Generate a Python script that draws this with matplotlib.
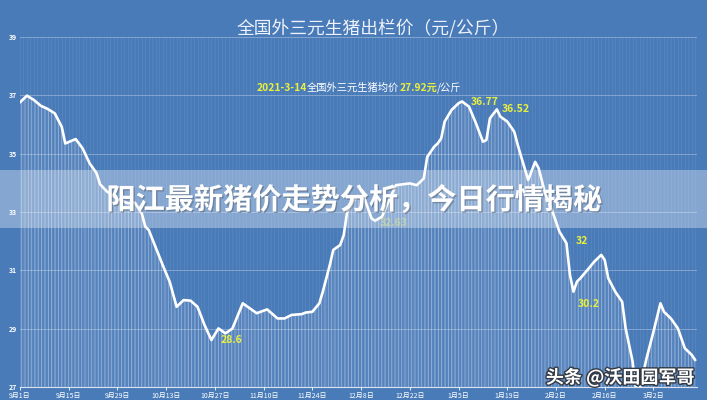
import matplotlib
matplotlib.use("Agg")
import matplotlib.pyplot as plt
import matplotlib.patheffects as pe
import matplotlib.patches as mpatches
import numpy as np
import pandas as pd

plt.rcParams['font.family'] = ['Noto Sans CJK SC', 'DejaVu Sans']
plt.rcParams['hatch.linewidth'] = 0.6

# ---- data ----
start_date = "2020-09-01"
day_offsets = [0, 2, 4, 6, 8, 10, 12, 13, 16, 18, 20, 22, 23, 25, 28, 31, 33, 35, 36, 37,
               41, 43, 45, 47, 49, 51, 53, 55, 57, 59, 61, 64, 68, 71, 74, 76, 78, 81, 82, 84,
               86, 87, 89, 90, 92, 93, 94, 96, 97, 99, 101, 102, 104, 106, 108, 112, 114, 116, 117, 119,
               120, 121, 122, 124, 126, 127, 129, 131, 133, 134, 135, 137, 138, 140, 142, 143, 144, 146, 148, 149,
               151, 153, 155, 157, 158, 159, 160, 161, 163, 165, 167, 168, 169, 171, 173, 174, 176, 177, 178, 180,
               182, 184, 185, 187, 189, 191, 193, 194]
prices = [36.76, 36.99, 36.84, 36.64, 36.53, 36.38, 35.92, 35.35, 35.50, 35.18, 34.67, 34.33, 33.95, 33.70, 33.45, 33.30, 33.32, 32.95, 32.50, 32.38,
          31.18, 30.61, 29.75, 29.98, 29.96, 29.75, 29.13, 28.61, 29.01, 28.84, 29.00, 29.87, 29.53, 29.66, 29.35, 29.35, 29.47, 29.50, 29.55, 29.58,
          29.87, 30.27, 31.18, 31.70, 31.87, 32.21, 33.01, 33.40, 33.55, 33.45, 32.78, 32.70, 32.84, 33.40, 33.92, 33.98, 33.92, 34.15, 34.89, 35.24,
          35.35, 35.52, 36.10, 36.50, 36.73, 36.79, 36.61, 36.04, 35.41, 35.47, 36.21, 36.52, 36.27, 36.10, 35.75, 35.30, 34.89, 34.10, 34.72, 34.50,
          33.58, 33.01, 32.32, 31.93, 30.84, 30.27, 30.61, 30.73, 31.01, 31.30, 31.53, 31.35, 30.73, 30.27, 29.92, 29.01, 27.87, 26.90, 26.90, 27.98,
          28.90, 29.87, 29.58, 29.35, 29.01, 28.33, 28.10, 27.92]

tick_days = [0, 14, 28, 42, 56, 70, 84, 98, 112, 126, 140, 154, 168, 182]
tick_labels = ["9月1日", "9月15日", "9月29日", "10月13日", "10月27日", "11月10日", "11月24日",
               "12月8日", "12月22日", "1月5日", "1月19日", "2月2日", "2月16日", "3月2日"]
y_ticks = [27, 29, 31, 33, 35, 37, 39]

ann_labels = ["36.77", "36.52", "32.63", "32", "30.2", "28.6"]
ann_days = [133.5, 142.5, 107.5, 161.5, 163.5, 60.8]
ann_values = [36.77, 36.52, 32.63, 32.0, 29.85, 28.6]

title = "全国外三元生猪出栏价（元/公斤）"
sub_date = "2021-3-14"
sub_mid = "全国外三元生猪均价"
sub_price = "27.92元"
sub_unit = "/公斤"
banner = "阳江最新猪价走势分析，今日行情揭秘"
watermark = "头条 @沃田园军哥"

# ---- figure ----
bg = "#4a7bb9"
W, H = 707, 400
fig = plt.figure(figsize=(W / 100, H / 100), dpi=100, facecolor=bg)
ax = fig.add_axes([20 / W, 13 / H, 677 / W, 350 / H], facecolor=bg)

dates = pd.to_datetime(start_date) + pd.to_timedelta(day_offsets, unit="D")
x = np.array(day_offsets, dtype=float)
y = np.array(prices)

ax.set_xlim(0, 194.5)
ax.set_ylim(27, 39)

# faint vertical background lines
for d in np.arange(0, 195, 1):
    ax.axvline(d, color="white", alpha=0.07, lw=0.6, zorder=0)
# horizontal grid
for v in y_ticks:
    ax.axhline(v, color="white", alpha=0.3, lw=0.7, zorder=1)

# hatched area under the curve (vertical stripes)
ax.fill_between(x, y, 27, facecolor="white", alpha=0.06, lw=0, zorder=1)
ax.fill_between(x, y, 27, facecolor="none", hatch="|||||", edgecolor=(1, 1, 1, 0.38), lw=0, zorder=2)

ax.plot(x, y, color="white", lw=1.9, zorder=4, solid_joinstyle="round", solid_capstyle="round")

for s in ["top", "right", "left"]:
    ax.spines[s].set_visible(False)
ax.spines["bottom"].set_color((1, 1, 1, 0.8))
ax.spines["bottom"].set_linewidth(0.8)

ax.set_xticks(tick_days)
ax.set_xticklabels(tick_labels)
ax.tick_params(axis="x", colors="white", labelsize=5, length=2, pad=1.5, width=0.6)
ax.set_yticks(y_ticks)
ax.set_yticklabels([str(v) for v in y_ticks])
ax.tick_params(axis="y", colors="white", labelsize=5, length=0, pad=2)
for t in ax.get_yticklabels():
    t.set_fontweight("bold")

yellow = "#e9f03c"
for lab, d, v in zip(ann_labels, ann_days, ann_values):
    a = 0.45 if lab == "32.63" else 1.0
    ax.text(d, v, lab, color=yellow, fontsize=7.5, fontweight="bold", ha="center", va="center",
            alpha=a, zorder=6)

# title
fig.text(373 / W, 1 - 28 / H, title, color="#eef2fa", fontsize=12.8, ha="center", va="center",
         fontweight="light")

# subtitle with coloured parts
parts = [(sub_date, yellow, "bold"), (sub_mid, "white", "medium"),
         (sub_price, yellow, "bold"), (sub_unit, "white", "medium")]
fig.canvas.draw()
renderer = fig.canvas.get_renderer()
xpos = 257 / W
for txt, col, wt in parts:
    t = fig.text(xpos, 1 - 88 / H, txt, color=col, fontsize=7.4, fontweight=wt, ha="left", va="center")
    bb = t.get_window_extent(renderer=renderer)
    xpos += bb.width / W

# banner
fig.patches.append(mpatches.Rectangle((0, 1 - 228 / H), 1, 58 / H, transform=fig.transFigure,
                                      facecolor="white", alpha=0.33, edgecolor="none", zorder=10))
fig.text(354 / W, 1 - 200 / H, banner, color="white", fontsize=21, fontweight="bold",
         ha="center", va="center", zorder=11,
         path_effects=[pe.withSimplePatchShadow(offset=(1, -1), shadow_rgbFace="#556070", alpha=0.5)])

# watermark
fig.text(620 / W, 1 - 378 / H, watermark, color="white", fontsize=13, fontweight="bold",
         ha="center", va="center", zorder=11,
         path_effects=[pe.withStroke(linewidth=2, foreground="#333a44")])

fig.savefig("out.png", dpi=100, facecolor=bg)
